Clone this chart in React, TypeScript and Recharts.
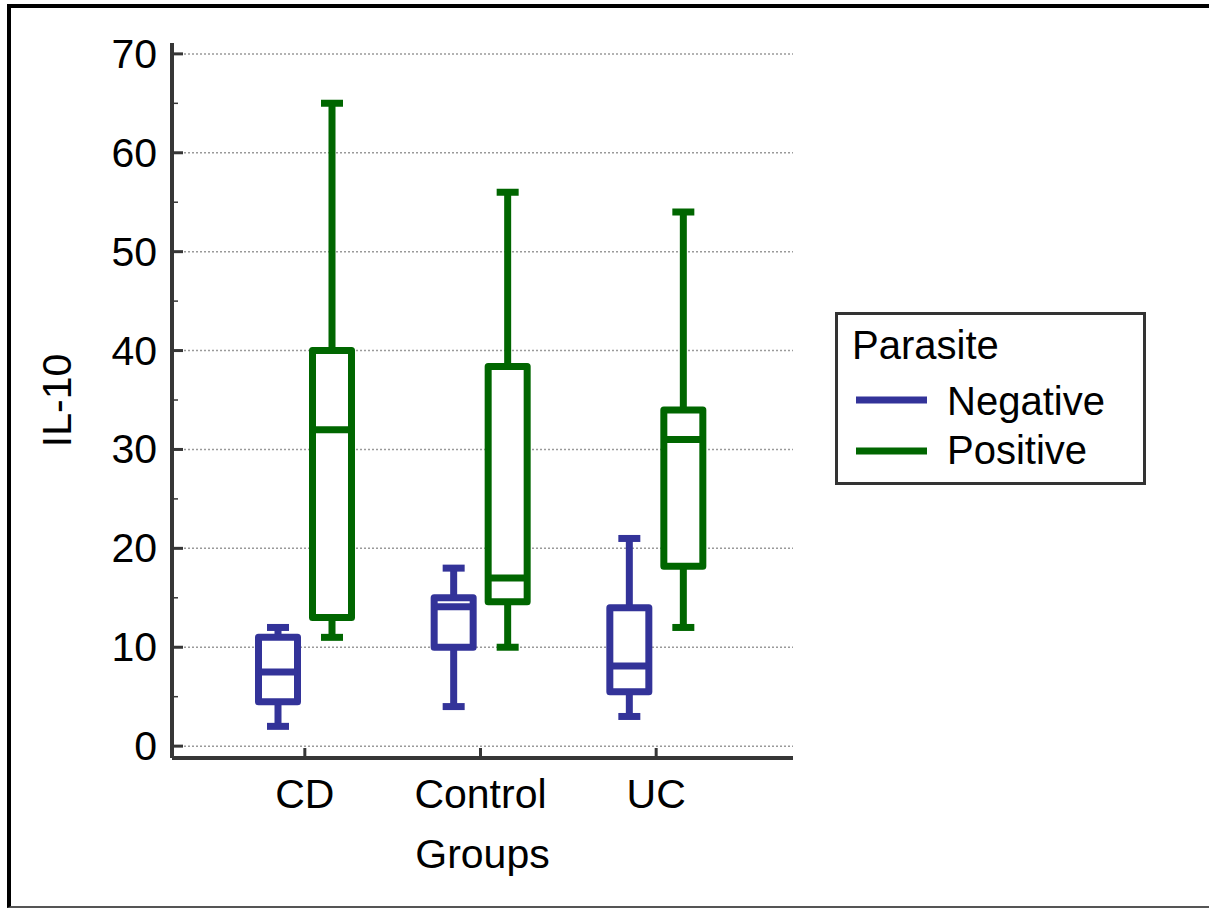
import { ComposedChart, Bar, XAxis, YAxis, CartesianGrid, Legend, Label } from 'recharts';

const groups = ['CD', 'Control', 'UC'];

// Parasite negative
const negMin = [2, 4, 3];
const negQ1 = [4.5, 10, 5.5];
const negMedian = [7.5, 14.1, 8.1];
const negQ3 = [11, 15, 14];
const negMax = [12, 18, 21];

// Parasite positive
const posMin = [11, 10, 12];
const posQ1 = [13, 14.6, 18.2];
const posMedian = [32, 17, 31];
const posQ3 = [40, 38.4, 34];
const posMax = [65, 56, 54];

const yTicks = [0, 5, 10, 15, 20, 25, 30, 35, 40, 45, 50, 55, 60, 65, 70];
const gridTicks = [0, 10, 20, 30, 40, 50, 60, 70];

const NEG = '#333399';
const POS = '#006600';
const AXIS = '#363636';
const FONT = '"Liberation Sans", Arial, sans-serif';

const data = groups.map((g, i) => ({
  group: g,
  neg: [negMin[i], negMax[i]],
  negStats: { min: negMin[i], q1: negQ1[i], med: negMedian[i], q3: negQ3[i], max: negMax[i] },
  pos: [posMin[i], posMax[i]],
  posStats: { min: posMin[i], q1: posQ1[i], med: posMedian[i], q3: posQ3[i], max: posMax[i] },
}));

const makeBox = (key: 'negStats' | 'posStats', color: string) => (props: any) => {
  const { x, y, width, height, payload } = props;
  const s = payload[key];
  const top = Math.min(y, y + height);
  const bottom = Math.max(y, y + height);
  const k = (bottom - top) / (s.max - s.min);
  const py = (v: number) => bottom - (v - s.min) * k;
  const cx = x + width / 2;
  const sw = 7;
  const half = (width - sw) / 2;
  return (
    <g>
      <line x1={cx} x2={cx} y1={py(s.max)} y2={py(s.q3)} stroke={color} strokeWidth={sw} />
      <line x1={cx} x2={cx} y1={py(s.q1)} y2={py(s.min)} stroke={color} strokeWidth={sw} />
      <line x1={cx - 11} x2={cx + 11} y1={py(s.max)} y2={py(s.max)} stroke={color} strokeWidth={sw} />
      <line x1={cx - 11} x2={cx + 11} y1={py(s.min)} y2={py(s.min)} stroke={color} strokeWidth={sw} />
      <rect
        x={cx - half}
        y={py(s.q3)}
        width={half * 2}
        height={py(s.q1) - py(s.q3)}
        fill="#fff"
        stroke={color}
        strokeWidth={sw}
        strokeLinejoin="round"
      />
      <line x1={cx - half} x2={cx + half} y1={py(s.med)} y2={py(s.med)} stroke={color} strokeWidth={sw} />
    </g>
  );
};

const YTick = ({ x, y, payload }: any) => {
  const major = payload.value % 10 === 0;
  return (
    <g>
      <line x1={x} x2={x + (major ? 11 : 6)} y1={y} y2={y} stroke={AXIS} strokeWidth={major ? 3 : 1.5} />
      {major && (
        <text x={x - 15} y={y} textAnchor="end" dominantBaseline="central" fontSize={41} fontFamily={FONT} fill="#000">
          {payload.value}
        </text>
      )}
    </g>
  );
};

const XTick = ({ x, y, payload }: any) => (
  <g>
    <line x1={x} x2={x} y1={y} y2={y - 10} stroke={AXIS} strokeWidth={3} />
    <text x={x} y={y + 50} textAnchor="middle" fontSize={41} fontFamily={FONT} fill="#000">
      {payload.value}
    </text>
  </g>
);

const LegendBox = ({ payload }: any) => (
  <svg width={311} height={173} style={{ display: 'block' }}>
    <rect x={1.5} y={1.5} width={308} height={170} fill="#fff" stroke="#333" strokeWidth={3} />
    <text x={17} y={47} fontSize={40} fontFamily={FONT} fill="#000">Parasite</text>
    {(payload || []).map((p: any, i: number) => (
      <g key={p.value}>
        <line x1={21} x2={92} y1={88 + i * 51} y2={88 + i * 51} stroke={p.color} strokeWidth={7} />
        <text x={112} y={103 + i * 49} fontSize={40} fontFamily={FONT} fill="#000">{p.value}</text>
      </g>
    ))}
  </svg>
);

export default function App() {
  return (
    <div
      style={{
        position: 'absolute',
        top: 4,
        left: 7,
        width: 1210,
        height: 898,
        borderTop: '4px solid #000',
        borderLeft: '4px solid #000',
        borderBottom: '2px solid #555',
        background: '#fff',
      }}
    >
      <ComposedChart
        width={1195}
        height={898}
        data={data}
        margin={{ top: 35, right: 413, bottom: 88, left: 11 }}
        barSize={46}
        barGap={8}
      >
        <CartesianGrid
          yAxisId="grid"
          vertical={false}
          syncWithTicks
          stroke="#9a9a9a"
          strokeWidth={1.5}
          strokeDasharray="2 2"
        />
        <XAxis
          dataKey="group"
          height={60}
          padding={{ left: 45, right: 49 }}
          axisLine={{ stroke: AXIS, strokeWidth: 4 }}
          tickLine={false}
          tickSize={0}
          tickMargin={0}
          tick={<XTick />}
          interval={0}
        >
          <Label
            content={({ viewBox }: any) => (
              <text
                x={viewBox.x + viewBox.width / 2}
                y={viewBox.y + 110}
                textAnchor="middle"
                fontSize={41}
                fontFamily={FONT}
                fill="#000"
              >
                Groups
              </text>
            )}
          />
        </XAxis>
        <YAxis
          yAxisId="main"
          width={150}
          type="number"
          domain={[-1.2, 71.1]}
          ticks={yTicks}
          interval={0}
          allowDataOverflow
          axisLine={{ stroke: AXIS, strokeWidth: 4 }}
          tickLine={false}
          tickSize={0}
          tickMargin={0}
          tick={<YTick />}
        >
          <Label
            content={({ viewBox }: any) => {
              const cx = viewBox.x + 35;
              const cy = viewBox.y + viewBox.height / 2;
              return (
                <text
                  x={cx}
                  y={cy}
                  transform={`rotate(-90, ${cx}, ${cy})`}
                  textAnchor="middle"
                  dominantBaseline="central"
                  fontSize={41}
                  fontFamily={FONT}
                  fill="#000"
                >
                  IL-10
                </text>
              );
            }}
          />
        </YAxis>
        <YAxis
          yAxisId="grid"
          hide
          width={0}
          type="number"
          domain={[-1.2, 71.1]}
          ticks={gridTicks}
          interval={0}
          allowDataOverflow
        />
        <Legend
          layout="horizontal"
          verticalAlign="middle"
          align="center"
          content={<LegendBox />}
          wrapperStyle={{ position: 'absolute', left: 824, top: 304, width: 311, height: 173 }}
        />
        <Bar
          yAxisId="main"
          dataKey="neg"
          name="Negative"
          fill={NEG}
          shape={makeBox('negStats', NEG)}
          isAnimationActive={false}
        />
        <Bar
          yAxisId="main"
          dataKey="pos"
          name="Positive"
          fill={POS}
          shape={makeBox('posStats', POS)}
          isAnimationActive={false}
        />
      </ComposedChart>
    </div>
  );
}
